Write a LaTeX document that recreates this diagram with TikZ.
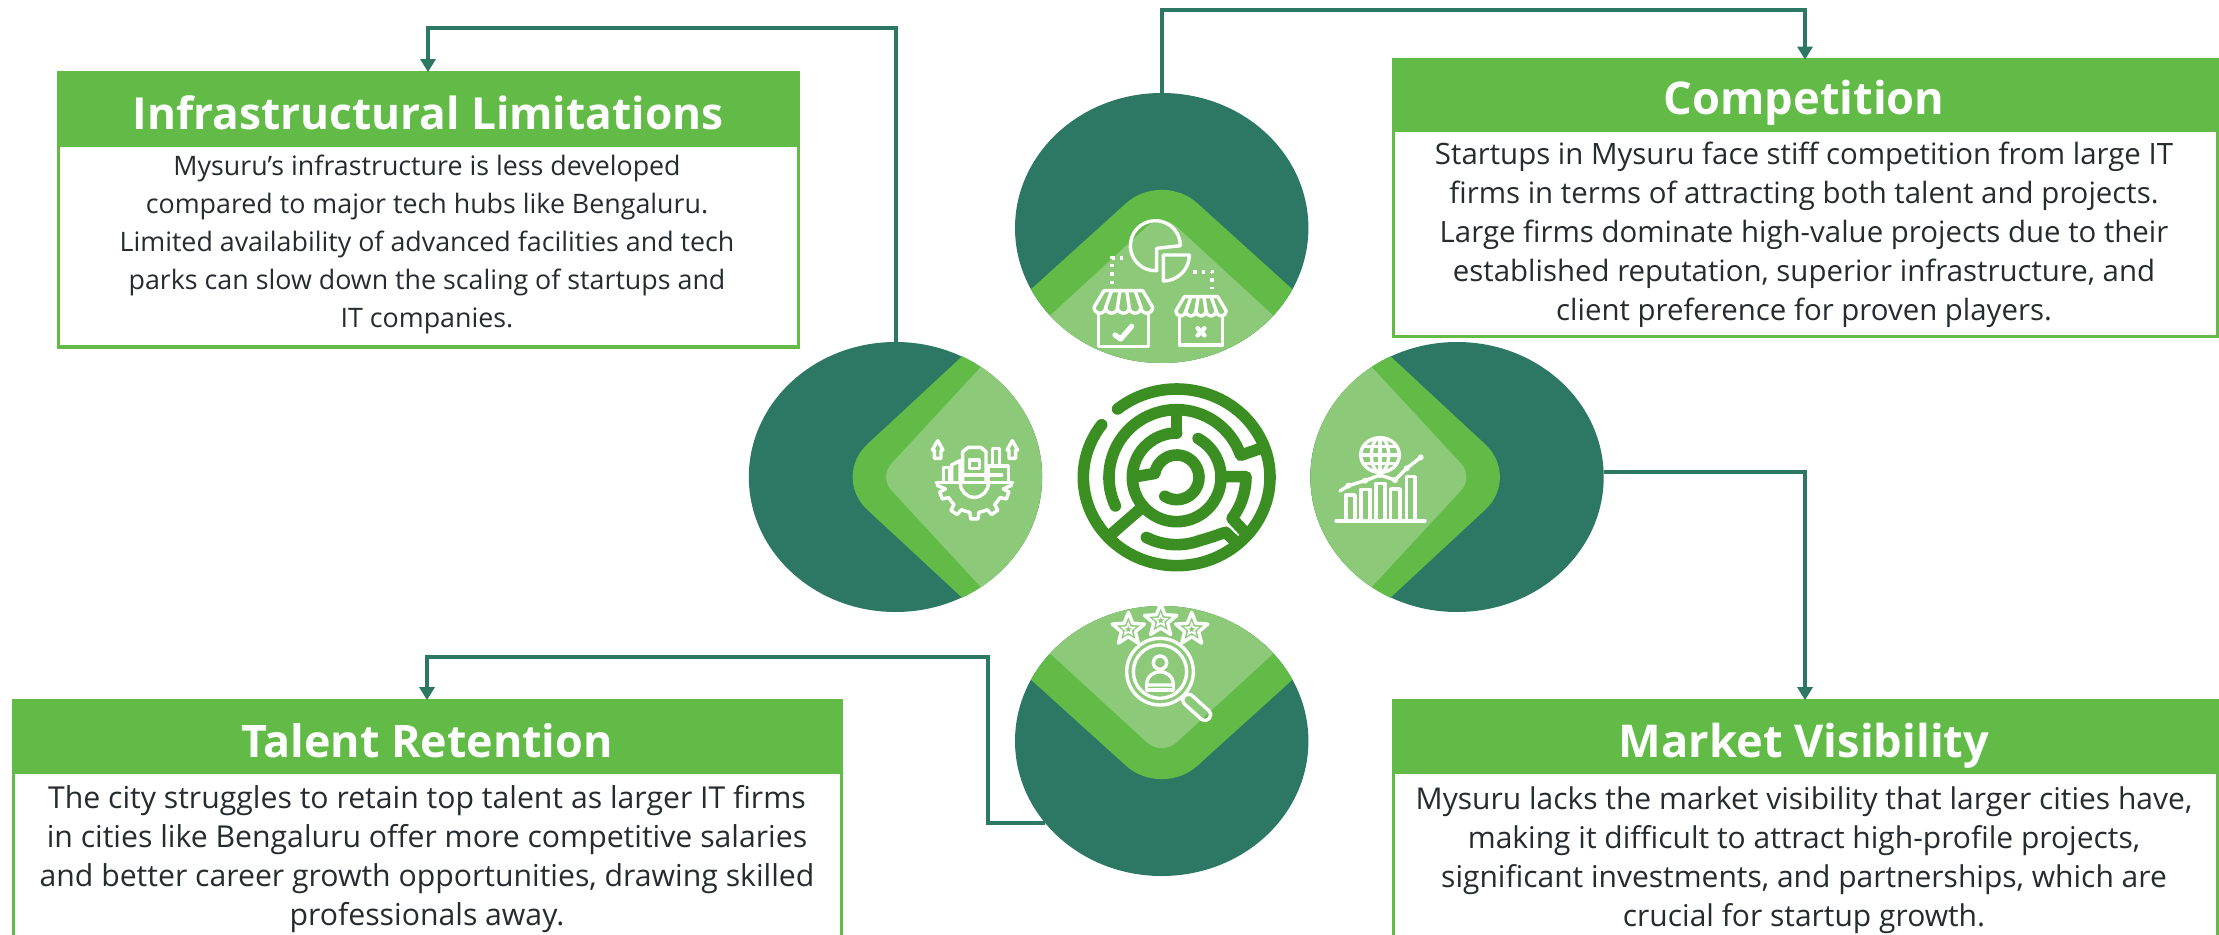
\documentclass[tikz,border=0pt]{standalone}
\usepackage{fontspec}
\setmainfont{Open Sans}
\usetikzlibrary{arrows.meta,shapes.geometric}
\definecolor{dark}{HTML}{2C7865}
\definecolor{midg}{HTML}{61BB46}
\definecolor{lightg}{HTML}{8CCA7A}
\definecolor{maze}{HTML}{3B8F22}
\definecolor{txt}{HTML}{262B30}
\tikzset{
  bubble/.style={ellipse,fill=dark,draw=none,inner sep=0pt,minimum width=146.7pt,minimum height=135pt},
  boxbody/.style={rectangle,draw=midg,line width=1.5pt,fill=white,inner sep=0pt},
  boxhead/.style={rectangle,fill=midg,inner sep=0pt},
  conn/.style={draw=dark,line width=2pt,-{Triangle[length=6.5pt,width=7.5pt]}},
  title/.style={text=white,inner sep=0pt,anchor=base},
  bodytext/.style={text=txt,align=center,inner sep=0pt},
  icon/.style={draw=white,line width=1.7pt,line join=round,line cap=round},
  dots/.style={draw=white,line width=1.9pt,dash pattern=on 1.7pt off 2.6pt},
  mz/.style={draw=maze,line width=5.8pt,line cap=round,line join=round},
  staricon/.style={star,star points=5,star point ratio=2.3,draw=white,line width=1.7pt,inner sep=0pt,minimum size=17pt,line join=round},
  staricon2/.style={star,star points=5,star point ratio=2.3,draw=white,line width=.8pt,inner sep=0pt,minimum size=6pt}
}
\newcommand{\hchev}[3]{%
  \begin{scope}
    \clip (#1,#2) ellipse [x radius=146.5,y radius=135.5];
    \begin{scope}[shift={(#1,#2)},xscale=#3]
      \fill[midg,rounded corners=24pt] (400,-430) -- (-63.5,0) -- (400,430) -- cycle;
      \fill[lightg,rounded corners=9pt] (400,-450) -- (-16.5,0) -- (400,450) -- cycle;
    \end{scope}
  \end{scope}}
\newcommand{\vchev}[3]{%
  \begin{scope}
    \clip (#1,#2) ellipse [x radius=146.7,y radius=135];
    \begin{scope}[shift={(#1,#2)},yscale=#3]
      \fill[midg,rounded corners=24pt] (-430,332) -- (0,-57) -- (430,332) -- cycle;
      \fill[lightg,rounded corners=10pt] (-430,380) -- (0,-15) -- (430,380) -- cycle;
    \end{scope}
  \end{scope}}
\newcommand{\shopicon}{%
  \draw[icon] (-88,50) -- (-58,0) -- (58,0) -- (88,50)
     arc[start angle=0,end angle=180,radius=17.6]
     arc[start angle=0,end angle=180,radius=17.6]
     arc[start angle=0,end angle=180,radius=17.6]
     arc[start angle=0,end angle=180,radius=17.6]
     arc[start angle=0,end angle=180,radius=17.6];
  \draw[icon] (-10,0) -- (-17.6,50) (10,0) -- (17.6,50) (-35,0) -- (-53,50) (35,0) -- (53,50);
  \draw[icon] (-75,70) -- (-75,168) -- (75,168) -- (75,70);
}
\begin{document}
\begin{tikzpicture}[x=0.5pt,y=-0.5pt]
\useasboundingbox (0,0) rectangle (2219,935);
\fill[white] (0,0) rectangle (2219,935);

% --- boxes
\node[boxbody,minimum width=370pt,minimum height=137pt] (infraBox) at (428,210) {};
\node[boxhead,minimum width=371pt,minimum height=37.5pt] (infraHead) at (428,110) {};
\node[title,font=\fontsize{22.1}{26}\selectfont\bfseries] (infraTitle) at (428,130) {Infrastructural Limitations};
\node[bodytext,font=\fontsize{13.4}{19}\selectfont] (infraText) at (427,244) {Mysuru’s infrastructure is less developed\\compared to major tech hubs like Bengaluru.\\Limited availability of advanced facilities and tech\\parks can slow down the scaling of startups and\\IT companies.};

\node[boxbody,minimum width=412pt,minimum height=138.5pt] (compBox) at (1805,198.5) {};
\node[boxhead,minimum width=412.5pt,minimum height=36pt] (compHead) at (1805,96) {};
\node[title,font=\fontsize{22.6}{26}\selectfont\bfseries] (compTitle) at (1804,115) {Competition};
\node[bodytext,font=\fontsize{14.7}{19.5}\selectfont] (compText) at (1804,234.5) {Startups in Mysuru face stiff competition from large IT\\firms in terms of attracting both talent and projects.\\Large firms dominate high-value projects due to their\\established reputation, superior infrastructure, and\\client preference for proven players.};

\node[boxbody,minimum width=414pt,minimum height=118pt] (talBox) at (427,818) {};
\node[boxhead,minimum width=414.5pt,minimum height=36.5pt] (talHead) at (427,737) {};
\node[title,font=\fontsize{22.4}{26}\selectfont\bfseries] (talTitle) at (427,757) {Talent Retention};
\node[bodytext,font=\fontsize{15.1}{19.5}\selectfont] (talText) at (427,859) {The city struggles to retain top talent as larger IT firms\\in cities like Bengaluru offer more competitive salaries\\and better career growth opportunities, drawing skilled\\professionals away.};

\node[boxbody,minimum width=412pt,minimum height=118pt] (mktBox) at (1805,818) {};
\node[boxhead,minimum width=412.5pt,minimum height=36.5pt] (mktHead) at (1805,737) {};
\node[title,font=\fontsize{22.6}{26}\selectfont\bfseries] (mktTitle) at (1804,757) {Market Visibility};
\node[bodytext,font=\fontsize{15}{19.5}\selectfont] (mktText) at (1804,860) {Mysuru lacks the market visibility that larger cities have,\\making it difficult to attract high-profile projects,\\significant investments, and partnerships, which are\\crucial for startup growth.};

% --- bubbles
\node[bubble] (lft) at (895.5,477) {};
\node[bubble] (rgt) at (1457,477) {};
\node[bubble] (top) at (1161.7,228) {};
\node[bubble] (bot) at (1161.7,741) {};
\hchev{895.5}{477}{1}
\hchev{1457}{477}{-1}
\vchev{1161.7}{228}{1}
\vchev{1161.7}{741}{-1}

% --- connectors
\coordinate (c1) at (600,28);
\coordinate (c2) at (1500,10);
\coordinate (c4) at (988,656.5);
\draw[conn] (lft.north) |- (c1) -| (infraHead.north);
\draw[conn] (top.north) |- (c2) -| (compHead.north);
\draw[conn] (rgt.2.7) -| (mktHead.north);
\draw[conn] (bot.215.5) -| (c4) -| (talHead.north);

% --- top icon: pie and shops
\begin{scope}[shift={(1000,80)},scale=1/3]
  \draw[icon] (470,572) arc[start angle=87,end angle=360,radius=75] -- (470,505) -- cycle;
  \draw[icon] (490,525) -- (568,525) arc[start angle=0,end angle=90,radius=78] -- cycle;
  \draw[dots] (370,533) -- (337,533) -- (337,612);
  \draw[dots] (580,575) -- (637,575) -- (637,628);
  \begin{scope}[shift={(370,632)}]
    \shopicon
    \draw[icon,line width=2.6pt] (-25,133) -- (-8,145) -- (25,107);
  \end{scope}
  \begin{scope}[shift={(603,650)},scale=.86]
    \shopicon
    \draw[icon,line width=2.2pt] (-12,110) -- (12,135) (12,110) -- (-12,135);
  \end{scope}
\end{scope}

% --- left icon: plant on a gear
\begin{scope}[shift={(740,340)},scale=1/3]
  \draw[icon] (583,355) -- (583,330) -- (577,330) -- (593,302) -- (609,330) -- (603,330) -- (603,355) -- cycle;
  \draw[icon] (807,355) -- (807,330) -- (801,330) -- (817,302) -- (833,330) -- (827,330) -- (827,355) -- cycle;
  \draw[icon] (588,428) -- (818,428);
  \begin{scope}[shift={(703,430)}]
    \foreach \a in {20,55,90,125,160}
      \draw[icon] (\a-9:88) -- (\a-6:107) -- (\a+6:107) -- (\a+9:88);
    \foreach \a in {29,64,99,134}
      \draw[icon] (\a:88) arc[start angle=\a,end angle=\a+17,radius=88];
    \draw[icon] (11:88) -- (3:112);
    \draw[icon] (169:88) -- (177:112);
  \end{scope}
  \draw[icon] (661,430) arc[start angle=180,end angle=0,radius=42];
  \draw[icon] (610,425) -- (610,382) -- (628,382) -- (628,425);
  \draw[icon] (635,425) -- (635,375) -- (660,362) -- (660,425);
  \draw[icon] (668,425) -- (668,335) -- (685,322) -- (722,322) -- (738,335) -- (738,425);
  \draw[icon] (688,360) rectangle (718,385);
  \draw[icon] (672,405) -- (735,405);
  \draw[icon] (757,375) -- (757,325) -- (778,325) -- (778,375);
  \draw[icon] (745,425) -- (745,378) -- (805,378) -- (805,425);
  \draw[icon] (752,405) -- (785,405);
\end{scope}

% --- right icon: globe and bars
\begin{scope}[shift={(1290,340)},scale=1/3]
  \draw[icon] (270,345) ellipse [x radius=58,y radius=52];
  \draw[icon] (270,345) ellipse [x radius=26,y radius=52];
  \draw[icon] (222,320) -- (318,320) (212,345) -- (328,345) (222,370) -- (318,370);
  \draw[icon] (270,293) -- (270,397);
  \foreach \a/\b/\t in {168/195/465,213/240/448,258/285/430,302/330/447,350/375/410}
    \draw[icon] (\a,540) -- (\a,\t) -- (\b,\t) -- (\b,540);
  \draw[icon] (138,543) -- (405,543);
  \draw[icon] (150,453) -- (175,437) -- (225,422) -- (270,405) -- (315,420) -- (350,385) -- (392,352);
  \foreach \p in {(175,437),(225,422),(270,405),(315,420),(350,385),(392,352)}
    \fill[white] \p circle (9);
\end{scope}

% --- bottom icon: stars and magnifier
\begin{scope}[shift={(1000,590)},scale=1/3]
  \node[staricon] (s1) at (385,118) {};
  \node[staricon] (s2) at (482,92) {};
  \node[staricon] (s3) at (575,118) {};
  \node[staricon2] (s1i) at (385,118) {};
  \node[staricon2] (s2i) at (482,92) {};
  \node[staricon2] (s3i) at (575,118) {};
  \draw[icon] (480,245) circle (100);
  \draw[icon] (480,245) circle (80);
  \draw[icon] (480,218) circle (20);
  \draw[icon] (440,285) .. controls (440,255) and (465,245) .. (480,245) .. controls (495,245) and (520,255) .. (520,285) -- cycle;
  \draw[icon] (440,285) -- (440,300) -- (520,300) -- (520,285);
  \draw[icon,rotate around={-42:(590,352)},rounded corners=2.5pt] (540,335) rectangle (640,369);
\end{scope}

% --- maze
\begin{scope}[shift={(1060,370)},scale=1/3]
  \begin{scope}[shift={(350,322)}]
    \draw[mz] (-129.3:280 and 265) arc[start angle=-129.3,end angle=216.5,x radius=280,y radius=265];
    \draw[mz] (155:203) arc[start angle=155,end angle=341,radius=203] -- (341:270);
    \draw[mz] (140,-2) -- (208,-2) arc[start angle=0,end angle=37,radius=208] -- (205,165);
    \draw[mz] (-61:133) arc[start angle=-61,end angle=270,radius=133];
    \draw[mz] (0,-200) -- (0,-133);
    \draw[mz] (139:270) -- (139:133);
    \draw[mz] (116.7:202) arc[start angle=116.7,end angle=70,radius=202] .. controls (105,180) and (130,170) .. (147,165) -- (178,195);
    \draw[mz] (122:67) arc[start angle=122,end angle=-170,radius=67] -- (-122,-2);
  \end{scope}
\end{scope}
\end{tikzpicture}
\end{document}
